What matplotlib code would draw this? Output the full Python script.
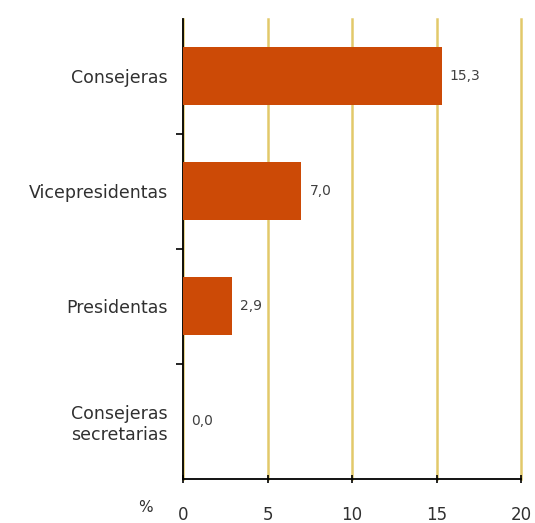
import matplotlib
matplotlib.use("Agg")
import matplotlib.pyplot as plt

categories = ["Consejeras", "Vicepresidentas", "Presidentas", "Consejeras\nsecretarias"]
values = [15.3, 7.0, 2.9, 0.0]
value_labels = ["15,3", "7,0", "2,9", "0,0"]
xticks = [0, 5, 10, 15, 20]

plt.rcParams['font.family'] = ['DejaVu Sans']

fig = plt.figure(figsize=(5.35, 5.23), dpi=100)
W, H = 535, 523
ax = fig.add_axes([183 / W, 1 - 478.5 / H, (521 - 183) / W, (478.5 - 18.5) / H])

ypos = list(range(len(categories)))
ax.barh(ypos, values, height=0.5, color="#cc4a06", zorder=3)
ax.set_ylim(len(categories) - 0.5, -0.5)
ax.set_xlim(0, 20)

for y, v, lab in zip(ypos, values, value_labels):
    ax.annotate(lab, (v, y), xytext=(6, 0), textcoords="offset points",
                ha="left", va="center", fontsize=10, color="#404040")

ax.set_xticks(xticks)
ax.set_xticklabels([str(t) for t in xticks], fontsize=12, color="#303030")
ax.set_yticks(ypos)
ax.set_yticklabels(categories, fontsize=12.5, color="#303030", linespacing=1.2)
ax.tick_params(axis="y", length=0, pad=11)
ax.set_yticks([0.5, 1.5, 2.5], minor=True)
ax.tick_params(axis="y", which="minor", length=5, direction="out", width=1.2)
ax.tick_params(axis="x", length=6, direction="inout", width=1.2, pad=17)

ax.xaxis.grid(True, color="#e2c96a", linewidth=1.8, zorder=0)
for gl in ax.get_xgridlines():
    gl.set_clip_on(False)
ax.set_axisbelow(True)
for s in ["top", "right"]:
    ax.spines[s].set_visible(False)
for s in ["left", "bottom"]:
    ax.spines[s].set_linewidth(1.3)
    ax.spines[s].set_color("black")

fig.text(145 / W, 1 - 508 / H, "%", fontsize=11, color="#303030", ha="center", va="center")

fig.savefig("out.png", dpi=100)
